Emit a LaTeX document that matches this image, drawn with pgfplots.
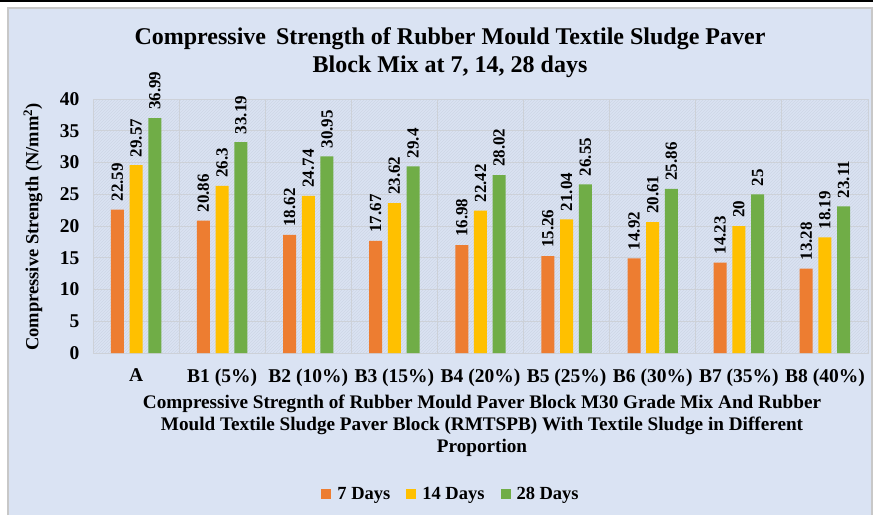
\documentclass[border=0pt]{standalone}
\usepackage{fontspec}
\setmainfont{Liberation Serif}
\usepackage{pgfplots}
\pgfplotsset{compat=1.18}
\usetikzlibrary{patterns}
\definecolor{bgcol}{HTML}{DAE3F3}
\definecolor{hatchcol}{HTML}{CED6E5}
\definecolor{gridcol}{HTML}{CDD1D8}
\definecolor{bordercol}{HTML}{C8C8C8}
\definecolor{c7}{HTML}{ED7D31}
\definecolor{c14}{HTML}{FFC000}
\definecolor{c28}{HTML}{70AD47}
\begin{document}
\begin{tikzpicture}[x=1pt,y=1pt]
\path[use as bounding box] (0,0) rectangle (873,515);
\fill[white] (0,0) rectangle (873,515);
\fill[black] (0,512.5) rectangle (873,515);
\fill[bgcol] (8,0) rectangle (872,507);
\draw[bordercol, line width=1.2pt] (8,0) -- (8,507) -- (872,507) -- (872,0);
\node[anchor=base, font=\fontsize{24}{28}\selectfont\bfseries] at (450,515-45) {Compressive\, Strength of Rubber Mould Textile Sludge Paver};
\node[anchor=base, font=\fontsize{24}{28}\selectfont\bfseries] at (450,515-73) {Block Mix at 7, 14, 28 days};
\node[rotate=90, font=\fontsize{18.5}{20}\selectfont\bfseries] at (33,515-227) {Compressive Strength (N/mm\textsuperscript{2})};
\node[align=center, anchor=base, font=\fontsize{19.2}{22}\selectfont\bfseries] at (482,515-452) {Compressive Stregnth of Rubber Mould Paver Block M30 Grade Mix And Rubber\\Mould Textile Sludge Paver Block (RMTSPB) With Textile Sludge in Different\\Proportion};
\begin{axis}[
  at={(93pt,162pt)}, anchor=south west,
  scale only axis, width=775pt, height=254pt,
  ybar=5.7pt, bar width=13pt,
  xmin=-0.5, xmax=8.5, ymin=0, ymax=40,
  ytick={0,5,...,40},
  xtick={0,...,8},
  xticklabels={A, B1 (5\%), B2 (10\%), B3 (15\%), B4 (20\%), B5 (25\%), B6 (30\%), B7 (35\%), B8 (40\%)},
  minor xtick={0.5,1.5,...,7.5},
  major tick length=0pt, minor tick length=0pt,
  ymajorgrids, xminorgrids,
  grid style={draw=gridcol, line width=0.8pt},
  minor grid style={draw=gridcol, line width=0.8pt},
  axis line style={draw=gridcol, line width=0.8pt},
  axis background/.style={fill=bgcol, postaction={pattern=north east lines, pattern color=hatchcol}},
  /pgf/number format/assume math mode=true,
  ticklabel style={font=\fontsize{19.5}{21}\selectfont\bfseries},
  yticklabel style={xshift=-10pt},
  xticklabel style={yshift=-12pt},
  nodes near coords,
  every node near coord/.append style={rotate=90, anchor=west, font=\fontsize{17}{18}\selectfont\bfseries, inner xsep=8pt, black},
  legend style={at={(0.462,-0.555)}, anchor=center, draw=none, fill=none, legend columns=-1,
    font=\fontsize{18.5}{20}\selectfont\bfseries,
    /tikz/every odd column/.append style={column sep=4pt},
    /tikz/every even column/.append style={column sep=14pt},
    inner xsep=0pt},
  legend image code/.code={\fill[#1, draw=none] (0pt,-5pt) rectangle (10pt,5pt);},
]
\addplot[fill=c7, draw=none] coordinates {(0,22.59) (1,20.86) (2,18.62) (3,17.67) (4,16.98) (5,15.26) (6,14.92) (7,14.23) (8,13.28)};
\addplot[fill=c14, draw=none] coordinates {(0,29.57) (1,26.3) (2,24.74) (3,23.62) (4,22.42) (5,21.04) (6,20.61) (7,20) (8,18.19)};
\addplot[fill=c28, draw=none] coordinates {(0,36.99) (1,33.19) (2,30.95) (3,29.4) (4,28.02) (5,26.55) (6,25.86) (7,25) (8,23.11)};
\legend{7 Days, 14 Days, 28 Days}
\end{axis}
\end{tikzpicture}
\end{document}
